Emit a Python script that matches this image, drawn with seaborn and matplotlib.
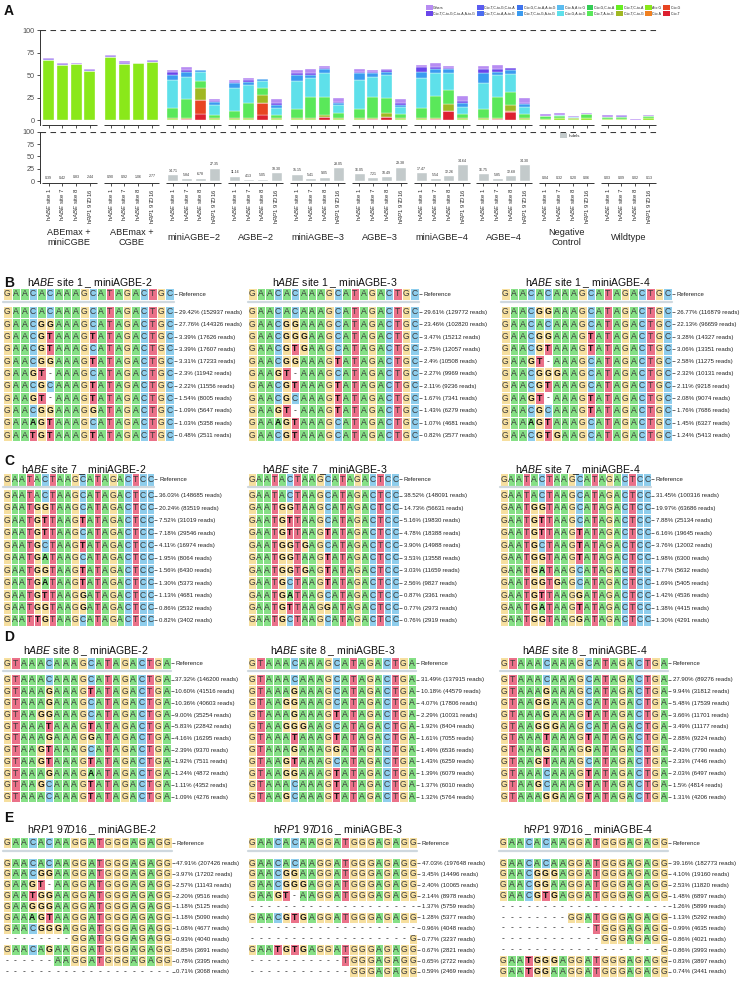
import numpy as np
import pandas as pd
import matplotlib
matplotlib.use('Agg')
import matplotlib.pyplot as plt
from matplotlib.colors import ListedColormap
from matplotlib.patches import Patch
from matplotlib.lines import Line2D
import seaborn as sns

sns.set_theme(style='white')
plt.rcParams['font.family'] = ['Liberation Sans', 'DejaVu Sans']
plt.rcParams['mathtext.fontset'] = 'custom'
plt.rcParams['mathtext.rm'] = 'Liberation Sans'
plt.rcParams['mathtext.it'] = 'Liberation Sans:italic'

# ---------------- panel A data ----------------
groups = ['ABEmax +\nminiCGBE', 'ABEmax +\nCGBE', 'miniAGBE\u22122', 'AGBE\u22122', 'miniAGBE\u22123',
          'AGBE\u22123', 'miniAGBE\u22124', 'AGBE\u22124', 'Negative\nControl', 'Wildtype']
sites = [r'h$\it{ABE}$ site 1', r'h$\it{ABE}$ site 7', r'h$\it{ABE}$ site 8', r'h$\it{RP1\ 97D16}$']

# stacked editing outcomes (%), 4 sites per group, bottom layer first
c_to_t = [0, 0, 0, 0, 0, 0, 0, 0, 0.5, 0.6, 6.7, 0.5, 0.5, 0.5, 5.6, 0.5, 0.5, 0.5, 3.0, 0.5,
          0.5, 0.6, 3.0, 0.5, 0.5, 0.6, 10.0, 0.5, 0.5, 0.6, 8.6, 0.5, 0, 0, 0, 0, 0, 0, 0, 0]
c_to_g = [0, 0, 0, 0, 0, 0, 0, 0, 0, 0, 15.6, 0, 0, 0, 13.7, 0, 0, 0, 0, 0,
          0, 0, 0, 0, 0, 0, 0, 0, 0, 0, 0, 0, 0, 0, 0, 0, 0, 0, 0, 0]
c_to_a = [0, 0, 0, 0, 0, 0, 0, 0, 0, 0, 0, 0, 0, 0, 0, 0, 0, 0, 0, 0,
          0, 0, 0, 0, 0, 0, 0, 0, 0, 0, 1.4, 0, 0, 0, 0, 0, 0, 0, 0, 0]
a_to_g = [66.8, 61.0, 62.6, 54.2, 70.0, 62.6, 63.4, 64.4, 0.8, 1.0, 0, 0.8, 0.8, 0.8, 0, 0.8,
          0.8, 0.8, 0, 0.8, 0.8, 1.0, 0, 0.8, 0.8, 1.0, 0, 0.8, 0.8, 1.0, 0, 0.8,
          1.5, 1.8, 1.0, 2.0, 1.5, 1.5, 0, 2.0]
ct_cg = [0, 0, 0, 0, 0, 0, 0, 0, 0.7, 0.9, 13.0, 0.7, 0.7, 0.7, 8.6, 0.7, 0.7, 0.7, 2.6, 0.7,
         0.7, 0.9, 4.4, 0.7, 0.7, 0.9, 7.8, 0.7, 0.7, 0.9, 6.7, 0.7, 0, 0, 1.5, 0, 0, 0, 0, 0]
ct_ag = [0, 0, 0, 0, 0, 0, 0, 0, 11.6, 20.8, 8.2, 3.4, 8.0, 16.6, 7.4, 3.6, 10.3, 23.3, 19.7, 5.4,
         10.3, 23.5, 16.8, 4.7, 11.0, 24.6, 15.7, 4.3, 10.3, 23.5, 14.9, 4.8,
         2.5, 2.5, 0, 4.2, 2.3, 2.0, 0, 2.0]
cg_ag = [0, 0, 0, 0, 0, 0, 0, 0, 31.6, 24.2, 10.0, 11.1, 25.3, 20.4, 8.6, 7.4, 31.6, 21.2, 27.5, 9.3,
         32.3, 22.3, 26.0, 7.4, 33.5, 24.9, 19.3, 8.6, 29.3, 24.2, 19.3, 7.4,
         0.5, 0.8, 1.0, 0, 0, 0, 0.5, 0]
ct_cg_ag = [0, 0, 0, 0, 0, 0, 0, 0, 5.6, 5.6, 1.9, 3.7, 5.6, 3.8, 1.5, 3.7, 5.9, 3.7, 3.7, 1.9,
            8.2, 4.5, 3.7, 2.6, 7.4, 4.5, 3.7, 3.7, 10.4, 3.7, 4.8, 3.7, 0, 0, 0, 0, 0, 0, 0, 0]
ct_cg_ca_ag = [0.8, 1.6, 0.5, 1.2, 1.2, 1.6, 0.3, 1.2, 2.5, 3.0, 0.3, 1.2, 1.2, 1.8, 0, 1.9,
               3.0, 2.6, 1.9, 1.9, 1.1, 1.1, 1.9, 1.9, 4.8, 2.2, 1.9, 2.6, 4.5, 2.6, 1.9, 1.5,
               0, 0, 0, 0, 0, 0.5, 0, 0]
others = [1.2, 1.6, 0.5, 1.5, 1.3, 1.6, 0.3, 1.4, 2.3, 2.9, 0.3, 2.6, 2.5, 2.6, 0.3, 4.4,
          3.0, 3.7, 1.8, 4.4, 2.6, 1.9, 1.1, 4.4, 2.6, 4.9, 1.8, 5.6, 4.1, 4.8, 0.8, 5.5,
          1.8, 2.3, 1.0, 2.0, 1.8, 1.6, 1.0, 1.6]

indels = [0.39, 0.42, 0.83, 2.44, 0.90, 0.92, 1.06, 2.77, 14.71, 5.84, 6.78, 27.35,
          11.16, 4.13, 5.05, 18.30, 15.15, 5.41, 9.05, 28.05, 16.05, 7.21, 10.49, 29.38,
          17.47, 5.54, 12.26, 34.64, 16.75, 5.85, 12.68, 34.30, 0.04, 0.32, 0.20, 0.06,
          0.03, 0.09, 0.02, 0.13]

leg_names = ['Others', 'C-to-T,C-to-G,C-to-A,A-to-G', 'C-to-T,C-to-G,C-to-A', 'C-to-T,C-to-A,A-to-G',
             'C-to-G,C-to-A,A-to-G', 'C-to-T,C-to-G,A-to-G', 'C-to-A,A-to-G', 'C-to-G,A-to-G',
             'C-to-G,C-to-A', 'C-to-T,A-to-G', 'C-to-T,C-to-A', 'C-to-T,C-to-G',
             'A-to-G', 'C-to-A', 'C-to-G', 'C-to-T']
leg_colors = ['#b78cf2', '#6a46ea', '#5a5cf0', '#4a6cf0', '#3f74ee', '#3a9bf0', '#5bbcf0', '#5ee0ea',
              '#33cc55', '#5ae85a', '#66ee22', '#a0b822', '#8ae81a', '#f08020', '#e84422', '#dd2030']
col_of = dict(zip(leg_names, leg_colors))

# ---------------- panels B-E data ----------------
ref_s1 = 'GAACACAAAGCATAGACTGC'
ref_s7 = 'GAATACTAAGCATAGACTCC'
ref_s8 = 'GTAAACAAAGCATAGACTGA'
ref_rp = 'GAACACAAGGATGGGAGAGG'

b1_seq = ['GAACACAAAGCATAGACTGC', 'GAACGGAAAGCATAGACTGC', 'GAACGTAAAGTATAGACTGC', 'GAACGTAAAGCATAGACTGC',
          'GAACGGAAAGTATAGACTGC', 'GAAGT-AAAGCATAGACTGC', 'GAACGCAAAGTATAGACTGC', 'GAAGT-AAAGTATAGACTGC',
          'GAACGGAAAGGATAGACTGC', 'GAAAGTAAAGCATAGACTGC', 'GAATGTAAAGTATAGACTGC']
b1_lab = ['29.42% (152937 reads)', '27.76% (144326 reads)', '3.39% (17626 reads)', '3.39% (17607 reads)',
          '3.31% (17233 reads)', '2.3% (11942 reads)', '2.22% (11556 reads)', '1.54% (8005 reads)',
          '1.09% (5647 reads)', '1.03% (5358 reads)', '0.48% (2511 reads)']
b2_seq = ['GAACACAAAGCATAGACTGC', 'GAACGGAAAGCATAGACTGC', 'GAACGGGAAGCATAGACTGC', 'GAACGTGAAGCATAGACTGC',
          'GAACGGAAAGTATAGACTGC', 'GAAGT-AAAGCATAGACTGC', 'GAACGTAAAGTATAGACTGC', 'GAACGCAAAGTATAGACTGC',
          'GAAGT-AAAGTATAGACTGC', 'GAAAGTAAAGCATAGACTGC', 'GAACGTAAAGCATAGACTGC']
b2_lab = ['29.61% (129772 reads)', '23.46% (102820 reads)', '3.47% (15212 reads)', '2.75% (12057 reads)',
          '2.4% (10508 reads)', '2.27% (9969 reads)', '2.11% (9236 reads)', '1.67% (7341 reads)',
          '1.43% (6279 reads)', '1.07% (4681 reads)', '0.82% (3577 reads)']
b3_seq = ['GAACGGAAAGCATAGACTGC', 'GAACACAAAGCATAGACTGC', 'GAACGGAAAGTATAGACTGC', 'GAACGTAAAGTATAGACTGC',
          'GAAGT-AAAGCATAGACTGC', 'GAACGGGAAGCATAGACTGC', 'GAACGTAAAGCATAGACTGC', 'GAAGT-AAAGTATAGACTGC',
          'GAACGCAAAGTATAGACTGC', 'GAAAGTAAAGCATAGACTGC', 'GAACGTGAAGCATAGACTGC']
b3_lab = ['26.77% (116879 reads)', '22.13% (96659 reads)', '3.28% (14327 reads)', '3.06% (13351 reads)',
          '2.58% (11275 reads)', '2.32% (10131 reads)', '2.11% (9218 reads)', '2.08% (9074 reads)',
          '1.76% (7686 reads)', '1.45% (6327 reads)', '1.24% (5413 reads)']

c1_seq = ['GAATACTAAGCATAGACTCC', 'GAATGGTAAGCATAGACTCC', 'GAATGTTAAGTATAGACTCC', 'GAATGTTAAGCATAGACTCC',
          'GAATGCTAAGTATAGACTCC', 'GAATGATAAGCATAGACTCC', 'GAATGGTAAGTATAGACTCC', 'GAATGATAAGTATAGACTCC',
          'GAATGTTAAGGATAGACTCC', 'GAATGGTAAGGATAGACTCC', 'GAATTGTAAGCATAGACTCC']
c1_lab = ['36.03% (148685 reads)', '20.24% (83519 reads)', '7.52% (31019 reads)', '7.18% (29546 reads)',
          '4.11% (16974 reads)', '1.95% (8064 reads)', '1.56% (6430 reads)', '1.30% (5373 reads)',
          '1.13% (4681 reads)', '0.86% (3532 reads)', '0.82% (3402 reads)']
c2_seq = ['GAATACTAAGCATAGACTCC', 'GAATGGTAAGCATAGACTCC', 'GAATGTTAAGCATAGACTCC', 'GAATGTTAAGTATAGACTCC',
          'GAATGGTGAGCATAGACTCC', 'GAATGGTAAGTATAGACTCC', 'GAATGGTGAGTATAGACTCC', 'GAATGCTAAGTATAGACTCC',
          'GAATGATAAGCATAGACTCC', 'GAATGTTAAGGATAGACTCC', 'GAATGCTAAGCATAGACTCC']
c2_lab = ['38.52% (148091 reads)', '14.73% (56631 reads)', '5.16% (19830 reads)', '4.78% (18388 reads)',
          '3.90% (14988 reads)', '3.53% (13558 reads)', '3.03% (11659 reads)', '2.56% (9827 reads)',
          '0.87% (3361 reads)', '0.77% (2973 reads)', '0.76% (2919 reads)']
c3_seq = ['GAATACTAAGCATAGACTCC', 'GAATGGTAAGCATAGACTCC', 'GAATGTTAAGCATAGACTCC', 'GAATGTTAAGTATAGACTCC',
          'GAATGCTAAGTATAGACTCC', 'GAATGGTAAGTATAGACTCC', 'GAATGATAAGCATAGACTCC', 'GAATGGTGAGCATAGACTCC',
          'GAATGTTAAGGATAGACTCC', 'GAATGATAAGTATAGACTCC', 'GAATGGTAAGGATAGACTCC']
c3_lab = ['31.45% (100316 reads)', '19.97% (63686 reads)', '7.88% (25134 reads)', '6.16% (19645 reads)',
          '3.76% (12002 reads)', '1.98% (6300 reads)', '1.77% (5632 reads)', '1.69% (5405 reads)',
          '1.42% (4536 reads)', '1.38% (4415 reads)', '1.30% (4291 reads)']

d1_seq = ['GTAAACAAAGCATAGACTGA', 'GTAAAGAAAGTATAGACTGA', 'GTAAAGAAAGCATAGACTGA', 'GTAAGGAAAGCATAGACTGA',
          'GTAAATAAAGTATAGACTGA', 'GTAAAGAAAGGATAGACTGA', 'GTAAGTAAAGCATAGACTGA', 'GTAAGTAAAGTATAGACTGA',
          'GTAAAGAAAGAATAGACTGA', 'GTAAGCAAAGTATAGACTGA', 'GTAAACAAAGTATAGACTGA']
d1_lab = ['37.32% (146200 reads)', '10.60% (41516 reads)', '10.36% (40603 reads)', '9.00% (35254 reads)',
          '5.83% (22842 reads)', '4.16% (16295 reads)', '2.39% (9370 reads)', '1.92% (7511 reads)',
          '1.24% (4872 reads)', '1.11% (4352 reads)', '1.09% (4276 reads)']
d2_seq = ['GTAAACAAAGCATAGACTGA', 'GTAAAGAAAGCATAGACTGA', 'GTAAGGAAAGCATAGACTGA', 'GTAAAGAAAGTATAGACTGA',
          'GTAAGGGAAGCATAGACTGA', 'GTAAATAAAGTATAGACTGA', 'GTAAAGAAAGGATAGACTGA', 'GTAAGTAAAGCATAGACTGA',
          'GTAAGGAAAGTATAGACTGA', 'GTAAACAAAGTATAGACTGA', 'GTAAGCAAAGTATAGACTGA']
d2_lab = ['31.49% (137915 reads)', '10.18% (44579 reads)', '4.07% (17806 reads)', '2.29% (10031 reads)',
          '1.92% (8404 reads)', '1.61% (7055 reads)', '1.49% (6536 reads)', '1.43% (6259 reads)',
          '1.39% (6079 reads)', '1.37% (6010 reads)', '1.32% (5764 reads)']
d3_seq = ['GTAAACAAAGCATAGACTGA', 'GTAAAGAAAGCATAGACTGA', 'GTAAGGAAAGCATAGACTGA', 'GTAAAGAAAGTATAGACTGA',
          'GTAAGGGAAGCATAGACTGA', 'GTAAATAAAGTATAGACTGA', 'GTAAAGAAAGGATAGACTGA', 'GTAAGTAAAGCATAGACTGA',
          'GTAAACAAAGTATAGACTGA', 'GTAAGCAAAGTATAGACTGA', 'GTAAAGGAAGTATAGACTGA']
d3_lab = ['27.90% (89276 reads)', '9.94% (31812 reads)', '5.48% (17539 reads)', '3.66% (11701 reads)',
          '3.49% (11177 reads)', '2.88% (9224 reads)', '2.43% (7790 reads)', '2.33% (7446 reads)',
          '2.03% (6497 reads)', '1.5% (4814 reads)', '1.31% (4206 reads)']

e1_seq = ['GAACACAAGGATGGGAGAGG', 'GAACGGAAGGATGGGAGAGG', 'GAAGT-AAGGATGGGAGAGG', 'GAATGGAAGGATGGGAGAGG',
          'GAAGGGAAGGATGGGAGAGG', 'GAAAGTAAGGATGGGAGAGG', 'GAACGGGAGGATGGGAGAGG', '--------GGATGGGAGAGG',
          'GAACAGAAGGATGGGAGAGG', '------AAGGATGGGAGAGG', '--------------------']
e1_lab = ['47.91% (207426 reads)', '3.97% (17202 reads)', '2.57% (11143 reads)', '2.20% (9516 reads)',
          '1.18% (5125 reads)', '1.18% (5090 reads)', '1.08% (4677 reads)', '0.93% (4040 reads)',
          '0.85% (3691 reads)', '0.78% (3395 reads)', '0.71% (3068 reads)']
e2_seq = ['GAACACAAGGATGGGAGAGG', 'GAACGGAAGGATGGGAGAGG', 'GAACGGGAGGATGGGAGAGG', 'GAAGT-AAGGATGGGAGAGG',
          '--------------------', 'GAACGTGAGGATGGGAGAGG', '--------------------', '-------------------G',
          'GAATGTGAGGATGGGAGAGG', '-----------TGGGAGAGG', '------------GGGAGAGG']
e2_lab = ['47.03% (197648 reads)', '3.45% (14496 reads)', '2.40% (10065 reads)', '2.14% (8978 reads)',
          '1.37% (5759 reads)', '1.28% (5377 reads)', '0.96% (4048 reads)', '0.77% (3237 reads)',
          '0.67% (2821 reads)', '0.65% (2722 reads)', '0.59% (2469 reads)']
e3_seq = ['GAACACAAGGATGGGAGAGG', 'GAACGGGAGGATGGGAGAGG', 'GAACGGAAGGATGGGAGAGG', 'GAACGTGAGGATGGGAGAGG',
          '--------------------', '--------GGATGGGAGAGG', '-----------TGGGAGAGG', '------------GGGAGAGG',
          '-------------------G', 'GAATGGGAGGATGGGAGAGG', 'GAATGGAAGGATGGGAGAGG']
e3_lab = ['39.16% (182773 reads)', '4.10% (19160 reads)', '2.53% (11820 reads)', '1.48% (6897 reads)',
          '1.26% (5899 reads)', '1.13% (5292 reads)', '0.99% (4635 reads)', '0.86% (4021 reads)',
          '0.86% (3993 reads)', '0.83% (3897 reads)', '0.74% (3441 reads)']

base_colors = ['#86e086', '#8ecdec', '#f6df9f', '#ea7189', 'white']  # A C G T -
base_code = {'A': 0, 'C': 1, 'G': 2, 'T': 3, '-': 4}

# ---------------- figure ----------------
W, H = 743, 981
fig = plt.figure(figsize=(W / 100, H / 100), dpi=100)


def box(x0, y0, x1, y1):
    return [x0 / W, 1 - y1 / H, (x1 - x0) / W, (y1 - y0) / H]


n_sites = 4
pos = np.array([g * 4.5 + i for g in range(len(groups)) for i in range(n_sites)])
xlim = (-0.62, 44.3)

# top stacked bars
ax1 = fig.add_axes(box(40, 30, 660, 124.5))
layers = [(c_to_t, 'C-to-T'), (c_to_g, 'C-to-G'), (c_to_a, 'C-to-A'), (a_to_g, 'A-to-G'),
          (ct_cg, 'C-to-T,C-to-G'), (ct_ag, 'C-to-T,A-to-G'), (cg_ag, 'C-to-G,A-to-G'),
          (ct_cg_ag, 'C-to-T,C-to-G,A-to-G'), (ct_cg_ca_ag, 'C-to-T,C-to-G,C-to-A,A-to-G'),
          (others, 'Others')]
bottom = np.zeros(len(pos))
for vals, name in layers:
    v = np.array(vals, dtype=float)
    ax1.bar(pos, v, bottom=bottom, width=0.8, color=col_of[name], edgecolor='white', linewidth=0.25)
    bottom += v
ax1.set_xlim(*xlim)
ax1.set_ylim(-5, 100.5)

# bottom indel bars
ax2 = fig.add_axes(box(40, 131.7, 660, 183))
indel_df = pd.DataFrame({'pos': pos.astype(float), 'indel': indels})
sns.barplot(data=indel_df, x='pos', y='indel', native_scale=True, width=0.8, color='#c3cacb',
            saturation=1, errorbar=None, ax=ax2)
for x, v in zip(pos, indels):
    ax2.text(x, v + 2.5, f'{v:.2f}', ha='center', va='bottom', fontsize=2.6, color='#333333')
ax2.set_xlim(*xlim)
ax2.set_ylim(-4, 100.5)
ax2.set_xlabel('')
ax2.set_ylabel('')

for ax, y0 in [(ax1, -5), (ax2, -4)]:
    ax.axhline(100, color='#3a3a3a', lw=0.8, ls=(0, (5, 4)))
    for s in ['top', 'right', 'bottom']:
        ax.spines[s].set_visible(False)
    ax.spines['left'].set_color('#333333')
    ax.spines['left'].set_linewidth(0.7)
    ax.set_yticks([0, 25, 50, 75, 100])
    ax.set_xticks(pos)
    ax.tick_params(axis='both', left=True, bottom=True, length=2.2, width=0.6, color='#333333',
                   labelsize=5.2, labelcolor='#4d4d4d', pad=1.5)
    for g in range(len(groups)):
        ax.plot([g * 4.5 - 0.5, g * 4.5 + 3.5], [y0, y0], color='#333333', lw=0.7,
                clip_on=False, solid_capstyle='butt')
ax1.set_xticklabels([])
ax2.set_xticklabels(sites * len(groups), rotation=90, fontsize=4.3, color='#333333')

for g, name in enumerate(groups):
    ax2.text(g * 4.5 + 1.5, (181 - 238) / 0.493, name, ha='center', va='center', fontsize=6.6,
             color='#222222', linespacing=1.15)

# legends
leg_handles = [Patch(facecolor=c, edgecolor='none') for c in leg_colors]
fig.legend(leg_handles, leg_names, ncol=8, loc='upper left', bbox_to_anchor=(426 / W, 1 - 5 / H),
           frameon=False, fontsize=2.5, handlelength=1.9, handleheight=1.9, columnspacing=0.25,
           handletextpad=0.2, labelspacing=0.25, borderaxespad=0, borderpad=0)
fig.legend([Patch(facecolor='#c3cacb', edgecolor='none')], ['Indels'], loc='upper left',
           bbox_to_anchor=(558 / W, 1 - 131 / H), frameon=False, fontsize=3.2, handlelength=1.6,
           handleheight=1.6, handletextpad=0.4, borderaxespad=0)

# ---------------- sequence panels ----------------
base_cmap = ListedColormap(base_colors)


def seq_heat(ax, seqs, ref, labels, fs):
    codes = np.array([[base_code[b] for b in s] for s in seqs])
    letters = np.array([list(s) for s in seqs])
    sns.heatmap(codes, ax=ax, cmap=base_cmap, vmin=-0.5, vmax=4.5, cbar=False, annot=letters, fmt='',
                linewidths=0.7, linecolor='white', xticklabels=False, yticklabels=False,
                annot_kws={'fontsize': fs, 'color': '#3c3c3c'})
    for k, t in enumerate(ax.texts):
        r, c = divmod(k, len(ref))
        b = seqs[r][c]
        if b != ref[c] and b != '-':
            t.set_fontweight('bold')
            t.set_color('#111111')
    ax.set_yticks(np.arange(len(seqs)) + 0.5)
    ax.set_yticklabels(labels)
    ax.tick_params(axis='y', left=False, labelleft=False, right=True, labelright=True, length=2.4,
                   width=0.6, color='#555555', pad=1, labelsize=4.3, labelcolor='#222222')


def block(x0, cw, y_title, x_title, title, y_ref, y_row1, rh, ref, seqs, labels):
    x1 = x0 + cw * len(ref)
    axr = fig.add_axes(box(x0, y_ref - rh / 2, x1, y_ref + rh / 2))
    seq_heat(axr, [ref], ref, ['Reference'], 6.2)
    top = y_row1 - rh / 2
    axs = fig.add_axes(box(x0, top, x1, top + rh * len(seqs)))
    seq_heat(axs, seqs, ref, [l for l in labels], 6.2)
    ly = 1 - (y_ref + rh / 2 + 0.35 * (y_row1 - y_ref - rh)) / H
    fig.add_artist(Line2D([x0 / W, x1 / W], [ly, ly], color='#cfd8de', lw=1.6))
    fig.text(x_title / W, 1 - y_title / H, title, ha='center', va='center', fontsize=7.6, color='#111111')


mini = ['miniAGBE-2', 'miniAGBE-3', 'miniAGBE-4']
panels = [
    ('B', 283, r'h$\it{ABE}$ site 1', ref_s1, [b1_seq, b2_seq, b3_seq], [b1_lab, b2_lab, b3_lab],
     283, 294, 312, 12.3, 8.55, [3, 248, 501], [90, 335, 588]),
    ('C', 461, r'h$\it{ABE}$ site 7', ref_s7, [c1_seq, c2_seq, c3_seq], [c1_lab, c2_lab, c3_lab],
     470.5, 479.3, 495.5, 12.45, 7.55, [3.3, 248, 500], [84, 325, 578]),
    ('D', 637, r'h$\it{ABE}$ site 8', ref_s8, [d1_seq, d2_seq, d3_seq], [d1_lab, d2_lab, d3_lab],
     651.5, 663.3, 679.5, 11.7, 8.4, [2.7, 248, 500], [86, 333, 585]),
    ('E', 818, r'h$\it{RP1\ 97D16}$', ref_rp, [e1_seq, e2_seq, e3_seq], [e1_lab, e2_lab, e3_lab],
     830, 842.7, 863, 10.85, 8.45, [2.7, 248, 499], [92, 338, 588]),
]
fig.text(4 / W, 1 - 11 / H, 'A', fontsize=10, fontweight='bold', va='center', color='#111111')
for letter, ly, site, ref, seq_sets, lab_sets, yt, yr, y1, rh, cw, xs, xts in panels:
    fig.text(4 / W, 1 - ly / H, letter, fontsize=10, fontweight='bold', va='center', color='#111111')
    for seqs, labs, x0, xt, m in zip(seq_sets, lab_sets, xs, xts, mini):
        block(x0, cw, yt, xt, site + ' _ ' + m, yr, y1, rh, ref, seqs, labs)

fig.savefig('out.png', dpi=100)
